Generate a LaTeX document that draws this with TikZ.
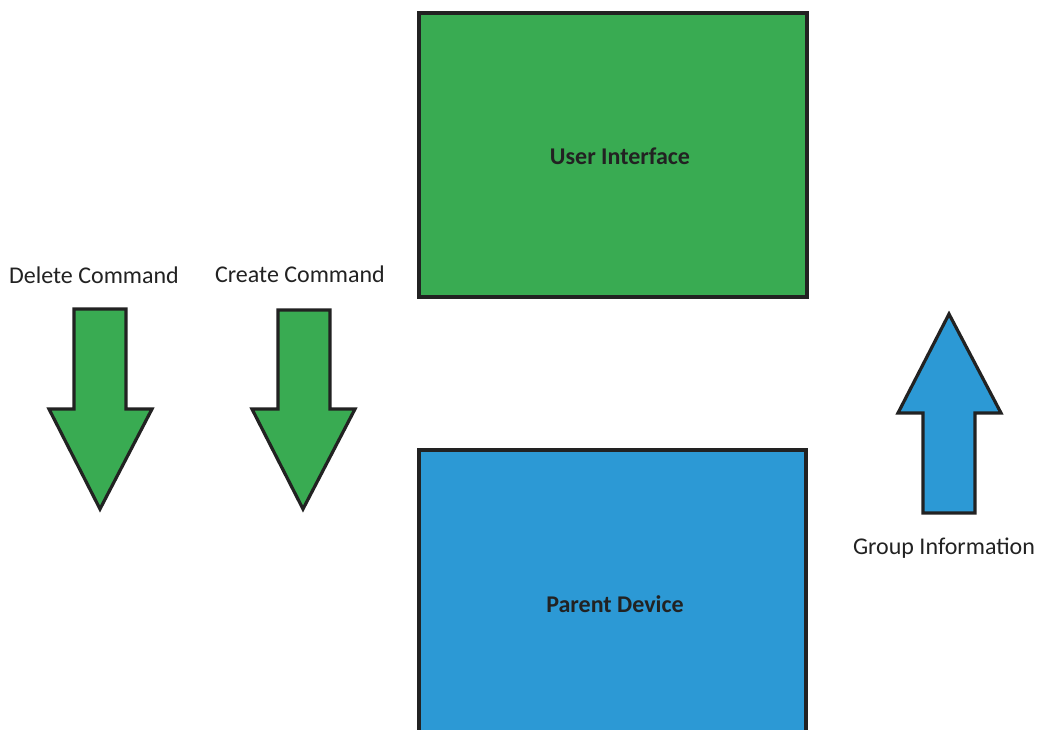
\documentclass[tikz,border=0pt]{standalone}
\usepackage{fontspec}
\setmainfont{Carlito}
\definecolor{boxgreen}{RGB}{57,171,82}
\definecolor{boxblue}{RGB}{44,153,213}
\definecolor{edgegray}{RGB}{34,34,34}
\begin{document}
\begin{tikzpicture}[x=0.75pt,y=-0.75pt,
  shapeline/.style={draw=edgegray, line width=2.4pt, line join=miter},
  lbl/.style={text=edgegray, font=\fontsize{18}{21}\selectfont, anchor=base, inner sep=0pt},
  blbl/.style={lbl, font=\fontsize{18}{21}\selectfont\bfseries}]
\useasboundingbox (0,0) rectangle (1038,729);
\clip (0,0) rectangle (1038,729);
% boxes
\draw[shapeline, fill=boxgreen] (419,13) rectangle (807,297);
\draw[shapeline, fill=boxblue] (419,450) rectangle (806,760);
\node[blbl] (ui) at (620,164) {User Interface};
\node[blbl] (pd) at (615,612) {Parent Device};
% arrows
\draw[shapeline, fill=boxgreen] (74,309) -- (126,309) -- (126,409) -- (152,409) -- (100,509) -- (49,409) -- (74,409) -- cycle;
\draw[shapeline, fill=boxgreen] (278,310) -- (330,310) -- (330,409) -- (355,409) -- (303,509) -- (252,409) -- (278,409) -- cycle;
\draw[shapeline, fill=boxblue] (923,513) -- (975,513) -- (975,413) -- (1001,413) -- (949,314) -- (898,413) -- (923,413) -- cycle;
% labels
\node[lbl] (del) at (94,283) {Delete Command};
\node[lbl] (cre) at (300,282) {Create Command};
\node[lbl] (grp) at (944,554) {Group Information};
\end{tikzpicture}
\end{document}
